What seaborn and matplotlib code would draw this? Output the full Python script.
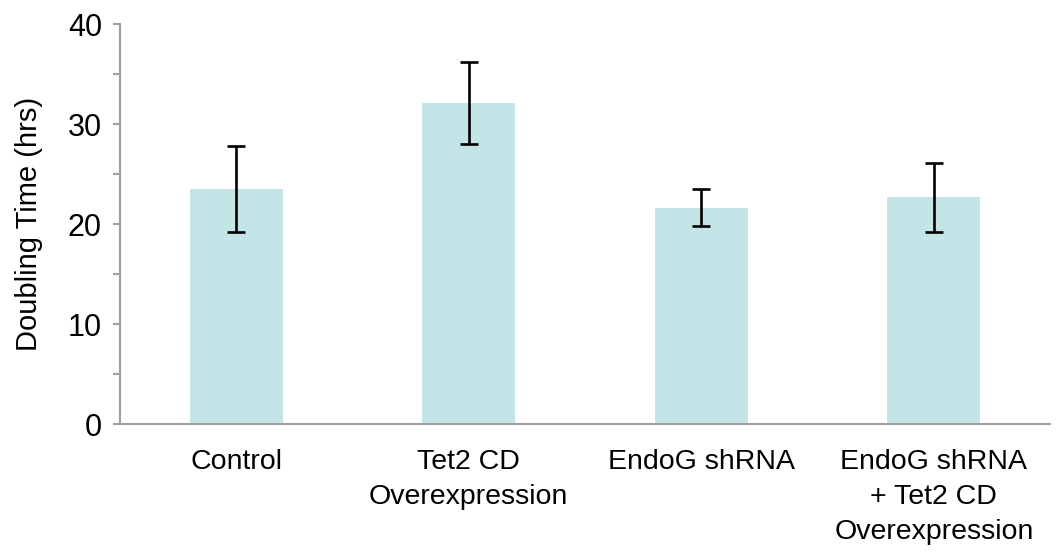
import matplotlib
matplotlib.use("Agg")
import matplotlib.pyplot as plt
import seaborn as sns
import pandas as pd
from matplotlib.ticker import MultipleLocator

categories = ["Control", "Tet2 CD\nOverexpression", "EndoG shRNA", "EndoG shRNA\n+ Tet2 CD\nOverexpression"]
doubling_time = [23.5, 32.1, 21.6, 22.7]
err_low = [4.3, 4.1, 1.8, 3.5]
err_high = [4.3, 4.1, 1.9, 3.4]
y_ticks = [0, 10, 20, 30, 40]

sns.set_theme(style="white")
plt.rcParams['font.family'] = ['Liberation Sans', 'DejaVu Sans']

df = pd.DataFrame({"category": categories, "value": doubling_time})

fig = plt.figure(figsize=(10.57, 5.56), dpi=100)
ax = fig.add_axes([0.1135, 0.2374, 0.88, 0.7194])

sns.barplot(data=df, x="category", y="value", color="#c4e5e8", saturation=1,
            width=0.4, ax=ax, errorbar=None, linewidth=0)

ax.errorbar(x=list(range(len(categories))), y=doubling_time, yerr=[err_low, err_high],
            fmt="none", ecolor="black", elinewidth=1.9, capsize=6.5, capthick=1.9)

ax.set_ylim(0, 40)
ax.set_xlim(-0.5, len(categories) - 0.5)
ax.set_yticks(y_ticks)
ax.yaxis.set_minor_locator(MultipleLocator(5))
ax.tick_params(axis="y", which="both", direction="out", length=5, width=1.5,
               color="#a0a0a0", left=True, labelsize=22, pad=8, labelcolor="black")
ax.tick_params(axis="x", length=0, labelsize=20.5, pad=18, labelcolor="black")
for lbl in ax.get_xticklabels():
    lbl.set_linespacing(1.45)

for s in ["top", "right"]:
    ax.spines[s].set_visible(False)
for s in ["left", "bottom"]:
    ax.spines[s].set_color("#a0a0a0")
    ax.spines[s].set_linewidth(1.5)

ax.set_xlabel("")
ax.set_ylabel("Doubling Time (hrs)", fontsize=21, color="black", labelpad=18)

fig.savefig("out.png", dpi=100)
